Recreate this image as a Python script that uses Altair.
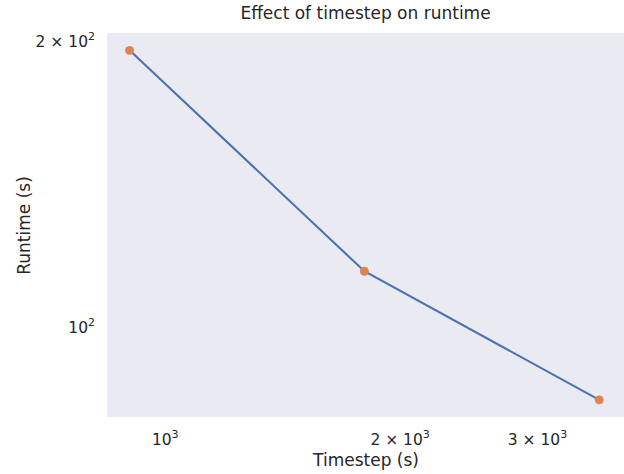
import altair as alt
import pandas as pd

# Timestep (s) against measured runtime (s)
timesteps = [900, 1800, 3600]
runtimes = [195.0, 114.0, 83.4]

# Tick positions and their mantissa / exponent label parts
x_ticks = [1000, 2000, 3000]
x_tick_base = ["10", "2 × 10", "3 × 10"]
x_tick_exp = ["3", "3", "3"]

y_ticks = [100, 200]
y_tick_base = ["10", "2 × 10"]
y_tick_exp = ["2", "2"]

df = pd.DataFrame({"timestep": timesteps, "runtime": runtimes})
x_lab = pd.DataFrame({"timestep": x_ticks, "base": x_tick_base, "exp": x_tick_exp})
y_lab = pd.DataFrame({"runtime": y_ticks, "base": y_tick_base, "exp": y_tick_exp})

text_color = "#262626"
font = "DejaVu Sans"
label_size = 15.5
exp_size = 11
# approximate rendered widths (DejaVu Sans advance widths)
exp_w = 0.636 * exp_size
short_w = 1.272 * label_size          # "10"
long_w = 3.382 * label_size           # "k × 10"

x_scale = alt.Scale(type="log", domain=[842, 3873], nice=False)
y_scale = alt.Scale(type="log", domain=[80, 203.4], nice=False)

x_enc = alt.X(
    "timestep:Q",
    scale=x_scale,
    axis=alt.Axis(
        title="Timestep (s)",
        values=x_ticks,
        labels=False,
        grid=False,
        domain=False,
        ticks=False,
        titleFontSize=17,
        titleFontWeight="normal",
        titleColor=text_color,
        titleFont=font,
        titlePadding=35,
    ),
)

y_enc = alt.Y(
    "runtime:Q",
    scale=y_scale,
    axis=alt.Axis(
        title="Runtime (s)",
        values=y_ticks,
        labels=False,
        grid=False,
        domain=False,
        ticks=False,
        titleFontSize=17,
        titleFontWeight="normal",
        titleColor=text_color,
        titleFont=font,
        titlePadding=74,
    ),
)

line = alt.Chart(df).mark_line(color="#4C72B0", strokeWidth=2.1).encode(x=x_enc, y=y_enc)
points = alt.Chart(df).mark_circle(color="#DD8452", opacity=1, size=80).encode(x=x_enc, y=y_enc)

# Tick labels of the form  m × 10^e, drawn as mantissa + raised exponent
x_base = alt.Chart(x_lab).mark_text(
    align="center", baseline="alphabetic", dx=-exp_w / 2, fontSize=label_size,
    font=font, color=text_color,
).encode(x=x_enc, y=alt.value(412), text="base:N")
x_exp_short = alt.Chart(x_lab).transform_filter("datum.base == '10'").mark_text(
    align="left", baseline="alphabetic", dx=(short_w - exp_w) / 2, fontSize=exp_size,
    font=font, color=text_color,
).encode(x=x_enc, y=alt.value(405), text="exp:N")
x_exp_long = alt.Chart(x_lab).transform_filter("datum.base != '10'").mark_text(
    align="left", baseline="alphabetic", dx=(long_w - exp_w) / 2, fontSize=exp_size,
    font=font, color=text_color,
).encode(x=x_enc, y=alt.value(405), text="exp:N")

y_base = alt.Chart(y_lab).mark_text(
    align="right", baseline="alphabetic", dy=7.5, fontSize=label_size,
    font=font, color=text_color,
).encode(y=y_enc, x=alt.value(-12 - exp_w), text="base:N")
y_exp = alt.Chart(y_lab).mark_text(
    align="right", baseline="alphabetic", dy=0.5, fontSize=exp_size,
    font=font, color=text_color,
).encode(y=y_enc, x=alt.value(-12), text="exp:N")

chart = (
    alt.layer(line, points, x_base, x_exp_short, x_exp_long, y_base, y_exp)
    .properties(
        width=517,
        height=384,
        title=alt.TitleParams(
            "Effect of timestep on runtime",
            fontSize=17,
            fontWeight="normal",
            font=font,
            color=text_color,
            offset=8,
        ),
        autosize=alt.AutoSizeParams(type="none"),
        padding={"left": 107, "top": 33, "right": 0, "bottom": 57},
        background="white",
    )
    .configure_view(fill="#EAEAF2", stroke=None)
)

chart.save("out.html", embed_options={"renderer": "svg", "actions": False})
